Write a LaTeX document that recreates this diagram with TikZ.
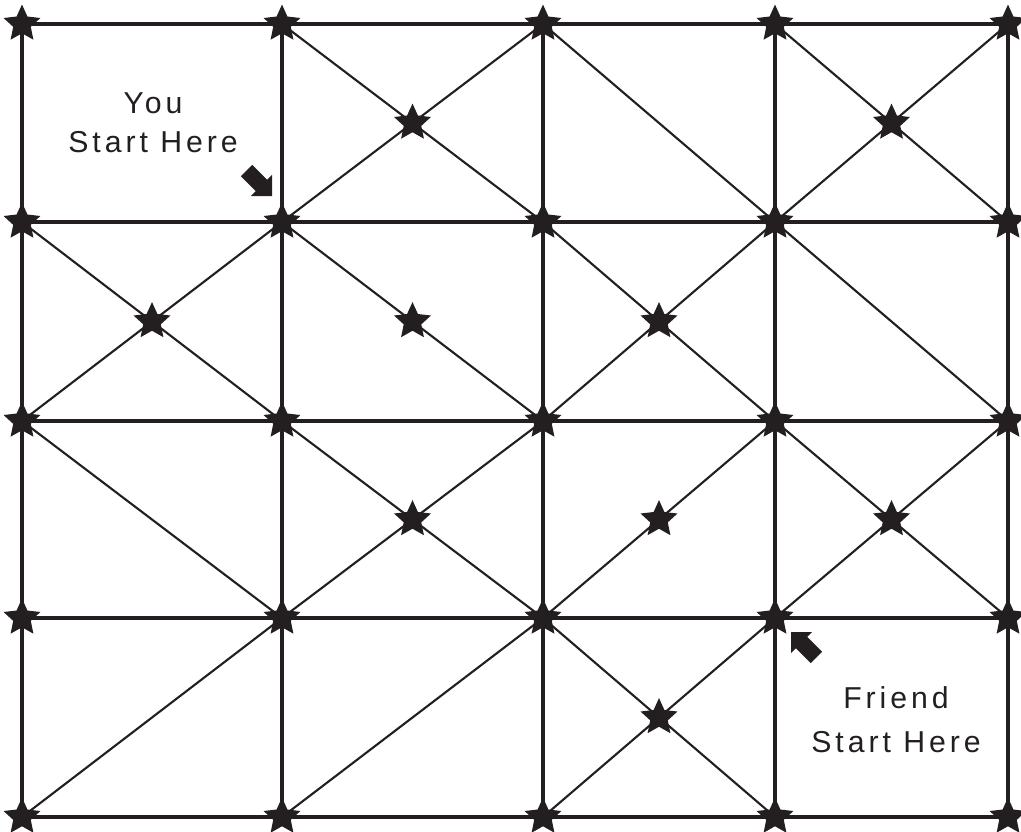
\documentclass[tikz,border=0pt]{standalone}
\usepackage{fontspec}
\setmainfont{Liberation Sans}
\usetikzlibrary{shapes.geometric,calc}
\definecolor{ink}{RGB}{35,31,32}
\tikzset{
 pt/.style={star,star points=5,star point ratio=2.1,fill=ink,inner sep=0pt,
            minimum size=0.97cm},
 gridline/.style={ink,line width=2.2pt},
 diag/.style={ink,line width=1.5pt},
 starttext/.style={align=center,text=ink,
            font=\addfontfeatures{LetterSpace=13}\fontsize{21.5}{27.5}\selectfont},
 startarrow/.pic={\fill[ink] (0,0) -- (-15,15) -- (-15,8) -- (-36,8)
            -- (-36,-8) -- (-15,-8) -- (-15,-15) -- cycle;}
}
\begin{document}
\begin{tikzpicture}[x=0.025cm,y=-0.025cm]
\useasboundingbox (0,0) rectangle (1021,831);
% grid corners
\foreach \x [count=\i from 0] in {22,282,543,775,1008}
  \foreach \y [count=\j from 0] in {24,222,421,618,817}
    \node[pt] (p\i\j) at (\x,\y) {};
% grid lines
\foreach \k in {0,...,4}{
  \draw[gridline] (p0\k.center) -- (p4\k.center);
  \draw[gridline] (p\k0.center) -- (p\k4.center);
}
% crossed cells
\foreach \i/\j in {1/0,3/0,0/1,2/1,1/2,3/2,2/3}{
  \pgfmathtruncatemacro\ii{\i+1}
  \pgfmathtruncatemacro\jj{\j+1}
  \draw[diag] (p\i\j.center) -- (p\ii\jj.center);
  \draw[diag] (p\ii\j.center) -- (p\i\jj.center);
  \node[pt] (m\i\j) at ($(p\i\j)!.5!(p\ii\jj)$) {};
}
% single diagonals
\foreach \i/\j in {2/0,1/1,3/1,0/2}{
  \pgfmathtruncatemacro\ii{\i+1}
  \pgfmathtruncatemacro\jj{\j+1}
  \draw[diag] (p\i\j.center) -- (p\ii\jj.center);
}
\foreach \i/\j in {2/2,0/3,1/3}{
  \pgfmathtruncatemacro\ii{\i+1}
  \pgfmathtruncatemacro\jj{\j+1}
  \draw[diag] (p\ii\j.center) -- (p\i\jj.center);
}
\node[pt] (m11) at ($(p11)!.5!(p22)$) {};
\node[pt] (m22) at ($(p32)!.5!(p23)$) {};
% start labels
\node[starttext] (you) at (153,123) {You\\Start Here};
\node[starttext] (friend) at (896,720) {Friend\\[4pt]Start Here};
\pic[rotate=-45] at (272,196) {startarrow};
\pic[rotate=135] at (791,632) {startarrow};
\end{tikzpicture}
\end{document}
